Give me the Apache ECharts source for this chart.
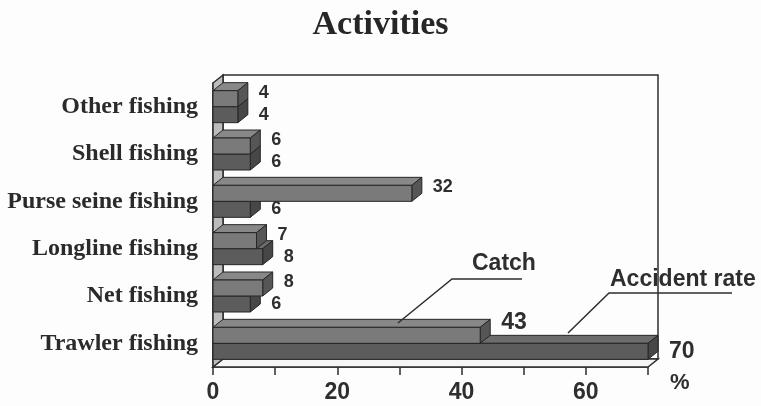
<!DOCTYPE html>
<html>
<head>
<meta charset="utf-8">
<script src="https://cdn.jsdelivr.net/npm/echarts@6/dist/echarts.min.js"></script>
<style>
  html, body { margin: 0; padding: 0; background: #fdfdfd; }
  #chart_activities { width: 761px; height: 406px; }
</style>
</head>
<body>
<div id="chart_activities"></div>
<script>
let categories = ['Other fishing', 'Shell fishing', 'Purse seine fishing', 'Longline fishing', 'Net fishing', 'Trawler fishing'];
let catchValues = [4, 6, 32, 7, 8, 43];
let accidentValues = [4, 6, 6, 8, 6, 70];
let xTicks = [0, 20, 40, 60];

// depth of the fake 3d look
const DX = 10;
const DY = 8;
const BAR_H = 16;

function barRenderer(offsetY, colors, isCatch) {
    return function (params, api) {
        let v = api.value(0);
        let ci = api.value(1);
        let p0 = api.coord([0, ci]);
        let p1 = api.coord([v, ci]);
        let x0 = p0[0], x1 = p1[0];
        let y0 = p0[1] + offsetY;
        let big = ci === categories.length - 1;
        let fs = big ? 23 : 18;
        let labelY = isCatch ? y0 + BAR_H / 2 - (big ? 13 : 6) : y0 + BAR_H / 2;
        let stroke = { stroke: '#262626', lineWidth: 1 };
        return {
            type: 'group',
            children: [
                {
                    type: 'polygon',
                    shape: { points: [[x0, y0], [x1, y0], [x1 + DX, y0 - DY], [x0 + DX, y0 - DY]] },
                    style: Object.assign({ fill: colors.top }, stroke)
                },
                {
                    type: 'polygon',
                    shape: { points: [[x1, y0], [x1 + DX, y0 - DY], [x1 + DX, y0 + BAR_H - DY], [x1, y0 + BAR_H]] },
                    style: Object.assign({ fill: colors.side }, stroke)
                },
                {
                    type: 'rect',
                    shape: { x: x0, y: y0, width: x1 - x0, height: BAR_H },
                    style: Object.assign({ fill: colors.front }, stroke)
                },
                {
                    type: 'text',
                    style: {
                        text: String(v),
                        x: x1 + DX + 11,
                        y: labelY,
                        verticalAlign: 'middle',
                        font: 'bold ' + fs + 'px "Liberation Sans", Arial, sans-serif',
                        fill: '#2e2e2e'
                    }
                }
            ]
        };
    };
}

function frameRenderer(params, api) {
    let cs = params.coordSys;
    let x = cs.x, y = cs.y, w = cs.width, h = cs.height;
    let stroke = { stroke: '#2e2e2e', lineWidth: 1.5 };
    return {
        type: 'group',
        children: [
            {
                type: 'polygon',
                shape: { points: [[x + DX, y - DY], [x + w + DX, y - DY], [x + w + DX, y + h - DY], [x + DX, y + h - DY]] },
                style: Object.assign({ fill: '#fdfdfd' }, stroke)
            },
            {
                type: 'polygon',
                shape: { points: [[x, y + h], [x + DX, y + h - DY], [x + w + DX, y + h - DY], [x + w, y + h]] },
                style: Object.assign({ fill: '#f6f6f6' }, stroke)
            },
            {
                type: 'polygon',
                shape: { points: [[x, y], [x + DX, y - DY], [x + DX, y + h - DY], [x, y + h]] },
                style: Object.assign({ fill: '#bcbcbc' }, stroke)
            }
        ]
    };
}

let chart = echarts.init(document.getElementById('chart_activities'));

let option = {
    backgroundColor: '#fdfdfd',
    animation: false,
    title: {
        text: 'Activities',
        left: 'center',
        top: 3,
        textStyle: {
            fontFamily: '"Liberation Serif", "Times New Roman", serif',
            fontWeight: 'bold',
            fontSize: 34,
            color: '#262626'
        }
    },
    grid: { left: 213, right: 113, top: 83, bottom: 39 },
    xAxis: {
        type: 'value',
        min: 0,
        max: 70,
        interval: 10,
        name: '%',
        nameLocation: 'end',
        nameGap: 22,
        nameTextStyle: {
            fontFamily: '"Liberation Sans", Arial, sans-serif',
            fontWeight: 'bold',
            fontSize: 22,
            color: '#2e2e2e',
            verticalAlign: 'top',
            padding: [5, 0, 0, 0]
        },
        splitLine: { show: false },
        axisLine: { show: true, lineStyle: { color: '#2e2e2e', width: 1.5 } },
        axisTick: { show: true, length: 8, lineStyle: { color: '#2e2e2e', width: 1.5 } },
        axisLabel: {
            margin: 14,
            fontFamily: '"Liberation Sans", Arial, sans-serif',
            fontWeight: 'bold',
            fontSize: 23,
            color: '#2e2e2e',
            formatter: function (v) { return xTicks.indexOf(v) >= 0 ? String(v) : ''; }
        }
    },
    yAxis: {
        type: 'category',
        inverse: true,
        data: categories,
        axisLine: { show: true, lineStyle: { color: '#2e2e2e', width: 1.5 } },
        axisTick: { show: false },
        axisLabel: {
            margin: 15,
            fontFamily: '"Liberation Serif", "Times New Roman", serif',
            fontWeight: 'bold',
            fontSize: 24,
            color: '#2a2a2a'
        }
    },
    graphic: [
        {
            type: 'polyline',
            shape: { points: [[522, 279], [452, 279], [398, 323]] },
            style: { stroke: '#2e2e2e', lineWidth: 1.5, fill: null },
            z: 100
        },
        {
            type: 'text',
            style: {
                text: 'Catch', x: 472, y: 264, verticalAlign: 'middle',
                font: 'bold 23px "Liberation Sans", Arial, sans-serif', fill: '#2e2e2e'
            },
            z: 100
        },
        {
            type: 'polyline',
            shape: { points: [[732, 293], [609, 293], [568, 333]] },
            style: { stroke: '#2e2e2e', lineWidth: 1.5, fill: null },
            z: 100
        },
        {
            type: 'text',
            style: {
                text: 'Accident rate', x: 610, y: 280, verticalAlign: 'middle',
                font: 'bold 23px "Liberation Sans", Arial, sans-serif', fill: '#2e2e2e'
            },
            z: 100
        }
    ],
    series: [
        {
            name: 'frame',
            type: 'custom',
            silent: true,
            z: 1,
            renderItem: frameRenderer,
            data: [[0, 0]]
        },
        {
            name: 'Accident rate',
            type: 'custom',
            z: 3,
            renderItem: barRenderer(0, { front: '#5c5c5c', top: '#6c6c6c', side: '#474747' }, false),
            encode: { x: 0, y: 1 },
            data: accidentValues.map(function (v, i) { return [v, i]; })
        },
        {
            name: 'Catch',
            type: 'custom',
            z: 4,
            renderItem: barRenderer(-BAR_H, { front: '#7a7a7a', top: '#888888', side: '#565656' }, true),
            encode: { x: 0, y: 1 },
            data: catchValues.map(function (v, i) { return [v, i]; })
        }
    ]
};

chart.setOption(option);
</script>
</body>
</html>
